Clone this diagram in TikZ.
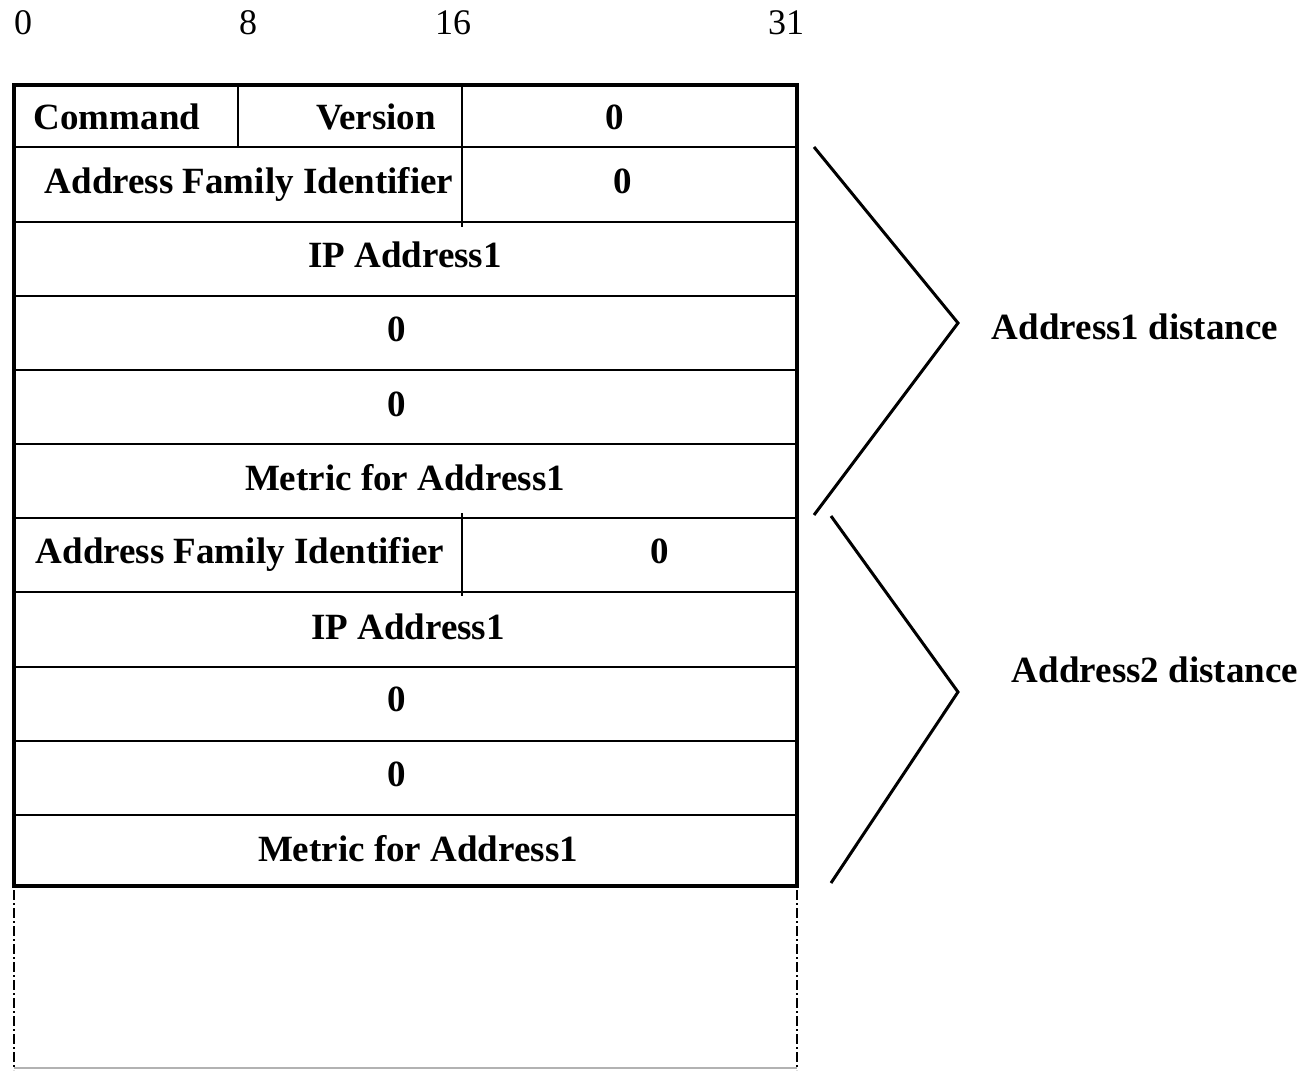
\documentclass[tikz,border=0pt]{standalone}
\usepackage{fontspec}
\setmainfont{Liberation Serif}
\begin{document}
\begin{tikzpicture}[x=1pt,y=-1pt,
  lbl/.style={font=\fontsize{37}{40}\selectfont\bfseries, anchor=base, inner sep=0pt},
  hdr/.style={font=\fontsize{36}{40}\selectfont, anchor=base, inner sep=0pt},
  rowline/.style={line width=2pt},
  colline/.style={line width=1.5pt},
  frame/.style={line width=4.5pt},
  bracket/.style={line width=3pt},
  ext/.style={line width=1.3pt, dash pattern=on 10pt off 3pt on 2pt off 3pt}]
\useasboundingbox (0,0) rectangle (1315,1073);
% header bit numbers
\node[hdr] (b0) at (23,35) {0};
\node[hdr] (b8) at (248,35) {8};
\node[hdr] (b16) at (453,35) {16};
\node[hdr] (b31) at (786,35) {31};
% row lines
\foreach \yy in {147,222,296,370,444,518,592,667,741,815}
  \draw[rowline] (14,\yy) -- (797,\yy);
% column lines
\draw[colline] (238,85) -- (238,147);
\draw[colline] (462,85) -- (462,227);
\draw[colline] (462,513) -- (462,596);
% extension below
\draw[ext] (14,890) -- (14,1070);
\draw[ext] (797,890) -- (797,1070);
\draw[line width=1.5pt, black!30] (14,1068) -- (797,1068);
% frame
\draw[frame] (14,85) rectangle (797,886);
% texts
\node[lbl] (cmd) at (117,129) {Command};
\node[lbl] (ver) at (376,129) {Version};
\node[lbl] (z1) at (615,129) {0};
\node[lbl] (afi1) at (249,193) {Address Family Identifier};
\node[lbl] (z2) at (623,193) {0};
\node[lbl] (ip1) at (405,267) {IP Address1};
\node[lbl] (z3) at (397,341) {0};
\node[lbl] (z4) at (397,416) {0};
\node[lbl] (m1) at (405,490) {Metric for Address1};
\node[lbl] (afi2) at (240,563) {Address Family Identifier};
\node[lbl] (z5) at (660,563) {0};
\node[lbl] (ip2) at (408,639) {IP Address1};
\node[lbl] (z6) at (397,711) {0};
\node[lbl] (z7) at (397,786) {0};
\node[lbl] (m2) at (418,861) {Metric for Address1};
\node[lbl] (d1) at (1135,339) {Address1 distance};
\node[lbl] (d2) at (1155,682) {Address2 distance};
% brackets
\coordinate (a1) at (814,147);
\coordinate (a2) at (958,323);
\coordinate (a3) at (814,515);
\coordinate (c1) at (831,516);
\coordinate (c2) at (958,692);
\coordinate (c3) at (831,883);
\draw[bracket] (a1) -- (a2) -- (a3);
\draw[bracket] (c1) -- (c2) -- (c3);
\end{tikzpicture}
\end{document}
